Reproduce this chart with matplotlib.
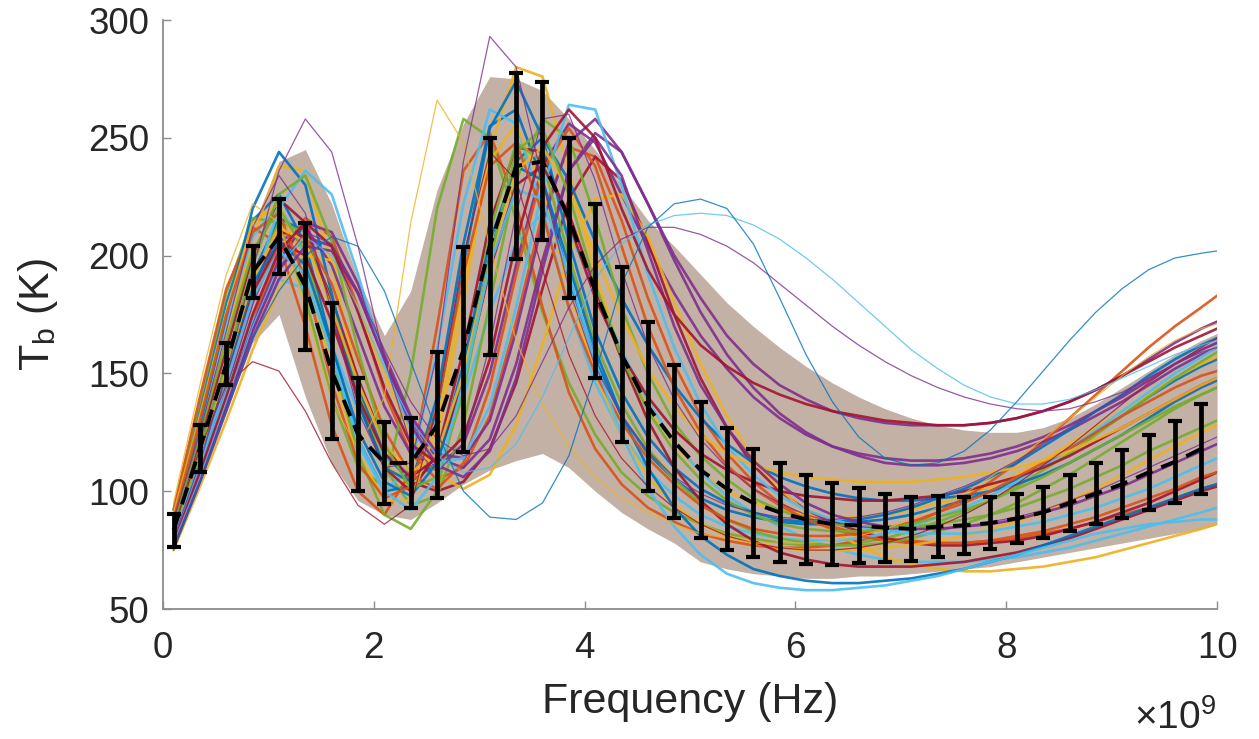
import matplotlib
matplotlib.use("Agg")
import matplotlib.pyplot as plt

# error-bar grid (units of 1e9 Hz)
freq_ghz = [0.1, 0.35, 0.6, 0.85, 1.1, 1.35, 1.6, 1.85, 2.1, 2.35,
            2.6, 2.85, 3.1, 3.35, 3.6, 3.85, 4.1, 4.35, 4.6, 4.85,
            5.1, 5.35, 5.6, 5.85, 6.1, 6.35, 6.6, 6.85, 7.1, 7.35,
            7.6, 7.85, 8.1, 8.35, 8.6, 8.85, 9.1, 9.35, 9.6, 9.85]
tb_mean = [83.5, 118, 154, 193, 208, 187, 151, 124, 112, 112,
           128, 160, 204, 238, 240, 216, 185, 158, 136, 121,
           109, 101, 95, 91, 88, 86, 85.5, 84.5, 84, 85,
           85.5, 86.5, 88.5, 91, 95, 99, 103, 108, 112.5, 118]
tb_std = [7, 10, 9, 11, 16, 27, 29, 24, 17.5, 19,
          31, 43.5, 46, 39.5, 33.5, 34, 37, 37, 36, 32.5,
          29, 26, 23, 21, 19, 17.5, 16, 14.5, 13.5, 13,
          12, 11, 10.5, 11, 12, 13, 14.5, 16, 17.5, 19]

# ensemble samples are drawn on the same grid plus the 10 GHz end point
sample_freq_ghz = freq_ghz + [10.0]

# dense core of the ensemble
band_lo = [76, 104, 134, 163, 175, 140, 112, 96, 90, 88,
           95, 103, 109, 113, 116, 110, 100, 91, 84, 78,
           70, 67, 65, 64, 63, 63, 64, 64, 65, 66,
           67, 68, 70, 72, 74, 76, 78, 80, 82, 84, 86]
band_hi = [93, 133, 175, 212, 240, 245, 222, 190, 166, 185,
           228, 256, 276, 275, 270, 258, 245, 230, 215, 204,
           192, 180, 170, 161, 153, 146, 140, 135, 131, 128,
           126, 125, 125, 127, 131, 137, 144, 151, 158, 164, 167]

# ensemble members inside the dense band
core_tb = [
    [90, 135, 180, 215, 226, 205, 162, 122, 100, 102, 140, 205, 255, 262, 232, 190, 156, 132, 116, 105,
     97, 92, 89, 87, 86, 86, 87, 88, 90, 93, 96, 100, 105, 111, 118, 125, 132, 140, 147, 153, 156],
    [78, 108, 140, 172, 200, 216, 208, 178, 142, 116, 105, 110, 132, 172, 218, 246, 242, 215, 182, 154,
     132, 116, 104, 95, 89, 85, 82, 80, 79, 78, 78, 79, 80, 82, 84, 87, 90, 93, 97, 101, 103],
    [86, 122, 164, 208, 238, 236, 196, 146, 112, 102, 122, 180, 245, 280, 276, 236, 192, 159, 136, 120,
     108, 100, 95, 92, 90, 89, 89, 90, 92, 95, 98, 102, 107, 113, 120, 127, 134, 141, 148, 154, 157],
    [80, 110, 144, 180, 206, 212, 196, 166, 136, 116, 110, 120, 150, 196, 238, 256, 248, 226, 204, 184,
     166, 152, 140, 131, 124, 119, 116, 114, 113, 113, 114, 116, 119, 123, 128, 134, 140, 147, 154, 160, 163],
    [92, 138, 184, 216, 214, 182, 140, 110, 102, 150, 220, 258, 250, 215, 176, 146, 124, 108, 98, 91,
     86, 82, 80, 78, 77, 77, 78, 80, 83, 87, 91, 96, 102, 109, 116, 124, 132, 140, 148, 155, 159],
    [80, 110, 142, 172, 190, 186, 162, 134, 114, 108, 116, 140, 176, 206, 218, 210, 186, 160, 138, 121,
     108, 98, 91, 85, 80, 76, 73, 71, 70, 70, 70, 71, 72, 74, 76, 79, 82, 85, 88, 91, 93],
    [82, 115, 150, 186, 210, 208, 182, 148, 120, 104, 100, 104, 118, 146, 186, 224, 242, 232, 206, 175,
     148, 127, 111, 100, 92, 87, 83, 80, 78, 77, 77, 78, 79, 81, 84, 87, 91, 95, 100, 105, 108],
    [84, 118, 154, 192, 216, 210, 180, 144, 116, 104, 112, 148, 200, 240, 250, 232, 206, 182, 162, 145,
     131, 120, 112, 106, 102, 99, 97, 96, 96, 97, 98, 100, 103, 107, 112, 118, 124, 131, 138, 144, 147],
    [92, 140, 186, 212, 205, 170, 128, 100, 90, 108, 170, 236, 252, 222, 178, 142, 118, 103, 93, 87,
     82, 79, 77, 76, 76, 77, 79, 82, 86, 91, 97, 104, 112, 121, 131, 141, 151, 161, 170, 178, 183],
    [75, 102, 130, 160, 186, 200, 198, 178, 150, 124, 107, 101, 107, 128, 162, 200, 224, 226, 208, 180,
     154, 132, 114, 101, 91, 83, 77, 72, 69, 67, 66, 66, 67, 68, 70, 72, 75, 78, 81, 84, 86],
    [78, 106, 136, 168, 194, 208, 204, 184, 156, 130, 114, 110, 122, 154, 198, 236, 252, 244, 222, 198,
     176, 158, 144, 133, 125, 119, 115, 112, 111, 111, 112, 114, 117, 121, 126, 132, 138, 145, 152, 158, 161],
    [83, 117, 152, 190, 214, 210, 180, 142, 110, 94, 98, 128, 180, 232, 258, 250, 216, 178, 150, 129,
     115, 105, 97, 92, 88, 86, 85, 85, 85, 86, 88, 90, 93, 97, 101, 106, 111, 117, 122, 127, 130],
    [88, 130, 172, 208, 222, 200, 158, 120, 100, 110, 160, 222, 262, 256, 220, 178, 146, 124, 109, 98,
     90, 85, 82, 80, 79, 79, 80, 82, 85, 89, 93, 98, 104, 111, 118, 126, 134, 142, 150, 157, 161],
    [86, 122, 160, 200, 224, 214, 178, 138, 110, 100, 116, 160, 214, 246, 244, 214, 182, 158, 140, 126,
     116, 109, 104, 100, 98, 97, 96, 96, 97, 98, 100, 103, 106, 110, 115, 121, 127, 133, 139, 145, 148],
    [88, 128, 174, 220, 244, 230, 184, 138, 110, 104, 134, 196, 254, 274, 250, 206, 168, 142, 123, 110,
     101, 95, 91, 88, 87, 87, 88, 90, 93, 97, 101, 106, 112, 119, 126, 134, 141, 149, 156, 162, 165],
    [80, 112, 146, 182, 204, 208, 188, 156, 126, 107, 101, 112, 144, 192, 236, 254, 238, 204, 170, 144,
     125, 111, 101, 94, 88, 84, 81, 79, 78, 78, 78, 79, 81, 83, 86, 89, 93, 97, 101, 106, 108],
    [90, 132, 176, 214, 222, 196, 152, 116, 96, 96, 128, 188, 240, 256, 228, 186, 150, 124, 106, 94,
     86, 81, 78, 76, 75, 75, 75, 76, 77, 79, 81, 84, 87, 91, 96, 101, 107, 113, 119, 125, 128],
    [76, 104, 136, 170, 198, 214, 210, 188, 158, 132, 116, 114, 130, 168, 214, 248, 258, 244, 222, 200,
     182, 166, 154, 145, 139, 134, 131, 129, 128, 128, 128, 129, 131, 134, 138, 143, 149, 156, 163, 169, 172],
    [86, 124, 164, 202, 220, 202, 158, 116, 90, 84, 100, 148, 210, 248, 240, 200, 163, 137, 118, 105,
     95, 88, 83, 80, 78, 77, 77, 78, 80, 83, 86, 90, 95, 101, 107, 114, 121, 128, 135, 141, 144],
    [80, 112, 148, 186, 220, 236, 226, 192, 154, 126, 112, 114, 136, 178, 228, 264, 262, 230, 192, 161,
     137, 119, 107, 98, 92, 88, 85, 83, 82, 82, 82, 83, 85, 87, 90, 93, 97, 101, 106, 111, 114],
    [82, 114, 148, 184, 206, 200, 172, 140, 116, 106, 114, 146, 194, 230, 238, 218, 186, 156, 130, 110,
     96, 86, 79, 74, 71, 69, 68, 68, 68, 69, 70, 72, 74, 77, 80, 84, 88, 92, 96, 100, 102],
    [82, 114, 150, 188, 206, 196, 162, 126, 104, 98, 112, 154, 206, 238, 232, 196, 160, 132, 110, 93,
     81, 73, 67, 64, 62, 61, 61, 62, 63, 65, 67, 70, 73, 77, 81, 85, 89, 93, 97, 101, 103],
    [88, 130, 175, 210, 218, 190, 146, 112, 97, 102, 136, 192, 238, 248, 218, 178, 150, 129, 114, 103,
     94, 88, 84, 82, 81, 81, 82, 84, 87, 91, 95, 100, 106, 112, 118, 125, 132, 138, 144, 149, 151],
    [82, 116, 152, 190, 212, 206, 178, 146, 120, 108, 116, 150, 198, 236, 246, 228, 200, 174, 152, 136,
     124, 116, 111, 108, 106, 105, 104, 104, 104, 105, 106, 108, 110, 113, 117, 122, 127, 133, 139, 145, 148],
    [76, 104, 134, 165, 190, 204, 202, 184, 156, 128, 111, 106, 117, 148, 194, 236, 250, 234, 202, 170,
     145, 127, 113, 103, 95, 90, 87, 85, 84, 84, 85, 86, 88, 91, 94, 98, 102, 107, 112, 117, 120],
    [83, 117, 155, 196, 226, 234, 206, 160, 120, 101, 106, 142, 198, 244, 254, 226, 188, 157, 134, 117,
     105, 96, 90, 86, 84, 83, 83, 84, 86, 89, 92, 96, 101, 106, 112, 118, 124, 130, 136, 141, 144],
    [80, 112, 146, 182, 202, 192, 158, 122, 100, 92, 106, 146, 196, 228, 224, 192, 155, 124, 101, 85,
     73, 65, 61, 59, 58, 58, 59, 60, 62, 64, 67, 70, 73, 76, 79, 82, 84, 86, 87, 88, 88],
    [78, 108, 140, 175, 202, 214, 204, 176, 144, 120, 112, 123, 156, 206, 246, 262, 250, 220, 194, 175,
     162, 153, 146, 141, 137, 134, 132, 130, 129, 128, 128, 129, 131, 134, 138, 143, 149, 155, 161, 166, 169],
]

# thin stragglers outside the dense band
outlier_tb = [
    [84, 118, 145, 155, 151, 134, 112, 94, 86, 94, 136, 200, 244, 232, 194, 158, 132, 114, 102, 93,
     86, 81, 78, 76, 75, 75, 76, 78, 81, 85, 90, 96, 103, 111, 119, 128, 137, 146, 154, 161, 165],
    [95, 145, 192, 222, 214, 178, 138, 118, 140, 214, 266, 248, 204, 164, 137, 119, 106, 97, 91, 86,
     82, 80, 78, 78, 78, 79, 81, 84, 88, 93, 99, 106, 114, 122, 131, 140, 149, 157, 164, 169, 171],
    [88, 125, 168, 212, 234, 218, 176, 134, 110, 112, 158, 240, 293, 280, 232, 186, 153, 132, 117, 106,
     99, 94, 91, 89, 88, 88, 89, 91, 94, 98, 102, 107, 113, 120, 127, 134, 141, 148, 154, 159, 161],
    [76, 104, 135, 168, 195, 210, 205, 185, 160, 138, 122, 115, 118, 132, 155, 178, 196, 207, 212, 212,
     209, 204, 197, 188, 179, 170, 162, 155, 149, 144, 140, 137, 135, 134, 135, 138, 142, 148, 154, 160, 163],
    [78, 106, 138, 170, 196, 208, 200, 178, 152, 130, 115, 108, 110, 120, 140, 165, 190, 205, 213, 217,
     218, 217, 213, 207, 199, 190, 180, 170, 160, 152, 145, 140, 137, 137, 139, 143, 148, 153, 158, 162, 164],
    [75, 104, 134, 165, 185, 200, 208, 204, 185, 155, 125, 100, 89, 88, 95, 115, 150, 188, 212, 222,
     224, 220, 205, 182, 158, 138, 123, 114, 111, 112, 117, 126, 138, 151, 164, 176, 186, 194, 199, 201, 202],
    [80, 112, 150, 194, 236, 258, 244, 204, 156, 120, 108, 120, 162, 218, 258, 260, 232, 194, 162, 139,
     122, 110, 101, 95, 90, 87, 85, 84, 84, 84, 85, 87, 89, 92, 96, 100, 105, 110, 115, 120, 123],
]

x_ticks = [0, 2, 4, 6, 8, 10]
y_ticks = [50, 100, 150, 200, 250, 300]

# ---------------------------------------------------------------------------
# style
# ---------------------------------------------------------------------------
MATLAB_COLORS = ["#0072BD", "#D95319", "#EDB120", "#7E2F8E",
                 "#77AC30", "#4DBEEE", "#A2142F"]
OUTLIER_COLORS = ["#A2142F", "#EDB120", "#7E2F8E", "#7E2F8E",
                  "#4DBEEE", "#0072BD", "#7E2F8E"]
TEXT = "#262626"
AXIS = "#8c8c8c"

plt.rcParams["font.family"] = ["Liberation Sans", "DejaVu Sans"]

fig = plt.figure(figsize=(12.59, 7.39), dpi=100)
ax = fig.add_axes([0.1295, 0.1759, 0.8372, 0.797])

ax.fill_between(sample_freq_ghz, band_lo, band_hi, color="#c4b1a6",
                lw=0, zorder=1)
for i, tb in enumerate(core_tb):
    ax.plot(sample_freq_ghz, tb, color=MATLAB_COLORS[i % len(MATLAB_COLORS)],
            lw=1.9, alpha=0.9, solid_capstyle="round", zorder=2)
for tb, c in zip(outlier_tb, OUTLIER_COLORS):
    ax.plot(sample_freq_ghz, tb, color=c, lw=0.9, alpha=0.8, zorder=2)

ax.errorbar(freq_ghz, tb_mean, yerr=tb_std, fmt="--", color="k",
            lw=2.8, dashes=(4.5, 2.5), elinewidth=3.4, capsize=4.8,
            capthick=3.0, zorder=5)

ax.set_xlim(0, 10)
ax.set_ylim(50, 300)
ax.set_xticks(x_ticks)
ax.set_yticks(y_ticks)
ax.set_xticklabels([str(t) for t in x_ticks])

for side in ("top", "right"):
    ax.spines[side].set_visible(False)
for side in ("left", "bottom"):
    ax.spines[side].set_color(AXIS)
    ax.spines[side].set_linewidth(1.3)

ax.tick_params(direction="in", length=6, width=1.0, color=AXIS,
               labelsize=26.5, labelcolor=TEXT)
ax.tick_params(axis="x", pad=16)
ax.tick_params(axis="y", pad=10)

ax.set_xlabel("Frequency (Hz)", fontsize=31, color=TEXT, labelpad=11)
ax.set_ylabel(r"T$_{\mathregular{b}}$ (K)", fontsize=31, color=TEXT, labelpad=20)

fig.text(0.966, 0.028, r"$\mathregular{\times 10^{9}}$", fontsize=28,
         color=TEXT, ha="right", va="center")

fig.savefig("out.png", dpi=100)
